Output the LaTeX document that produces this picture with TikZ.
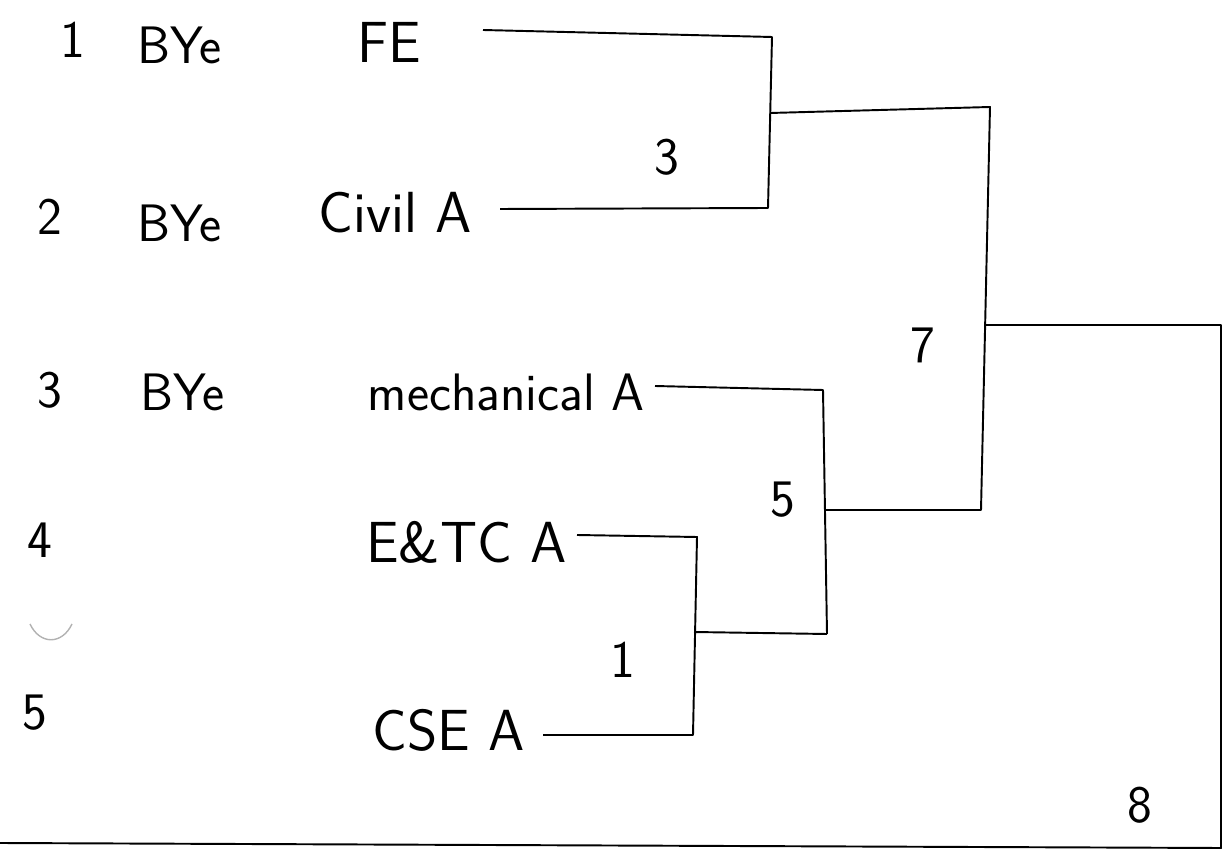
\documentclass[tikz,border=0pt]{standalone}
\usepackage{tikz}
\usetikzlibrary{calc}

\begin{document}
\begin{tikzpicture}[
		x=0.02cm, y=-0.02cm,
		hand/.style={font=\sffamily\fontsize{30}{33}\selectfont, inner sep=0pt},
		team/.style={hand, font=\sffamily\fontsize{33}{36}\selectfont},
		bracket/.style={line width=1.1pt, line join=round},
	]
	\useasboundingbox (0,0) rectangle (1224,854);

	% seeds and byes
	\node[hand] (n1) at (73,40) {1};
	\node[hand] (n2) at (50,217) {2};
	\node[hand] (n3) at (50,390) {3};
	\node[hand] (n4) at (40,540) {4};
	\node[hand] (n5) at (35,713) {5};
	\node[hand, anchor=west] (bye1) at (137,45) {BYe};
	\node[hand, anchor=west] (bye2) at (137,223) {BYe};
	\node[hand, anchor=west] (bye3) at (140,392) {BYe};
	\draw[gray!60, line width=0.8pt] (30,624) .. controls (40,645) and (62,645) .. (72,624);

	% teams
	\node[team, anchor=west] (fe) at (357,42) {FE};
	\node[team, anchor=east] (civil) at (472,213) {Civil A};
	\node[hand, anchor=east] (mech) at (645,392) {mechanical A};
	\node[team, anchor=east] (entc) at (567,542) {E\&TC A};
	\node[team, anchor=east] (cse) at (525,730) {CSE A};

	% bracket corners
	\coordinate (fe-s) at (483,30);
	\coordinate (civil-s) at (500,209);
	\coordinate (m3a) at (772,37);
	\coordinate (m3b) at (768,208);
	\coordinate (m3o) at (770,113);
	\coordinate (mech-s) at (655,386);
	\coordinate (entc-s) at (577,535);
	\coordinate (cse-s) at (543,735);
	\coordinate (m1a) at (697,537);
	\coordinate (m1b) at (693,735);
	\coordinate (m1o) at (694,632);
	\coordinate (m5a) at (823,390);
	\coordinate (m5b) at (827,634);
	\coordinate (m5o) at (825,510);
	\coordinate (m7a) at (990,107);
	\coordinate (m7b) at (981,510);
	\coordinate (m7o) at (986,325);
	\coordinate (m8a) at (1221,325);
	\coordinate (m8b) at (1221,848);
	\coordinate (base) at (0,843);

	\draw[bracket] (fe-s) -- (m3a) -- (m3b) -- (civil-s);
	\draw[bracket] (mech-s) -- (m5a) -- (m5b);
	\draw[bracket] (entc-s) -- (m1a) -- (m1b) -- (cse-s);
	\draw[bracket] (m1o) -- (m5b);
	\draw[bracket] (m3o) -- (m7a) -- (m7b) -- (m5o);
	\draw[bracket] (m7o) -- (m8a) -- (m8b) -- (base);

	% match numbers
	\node[hand] (g3) at (667,157) {3};
	\node[hand] (g1) at (623,660) {1};
	\node[hand] (g5) at (783,500) {5};
	\node[hand] (g7) at (923,345) {7};
	\node[hand] (g8) at (1140,805) {8};
\end{tikzpicture}
\end{document}
